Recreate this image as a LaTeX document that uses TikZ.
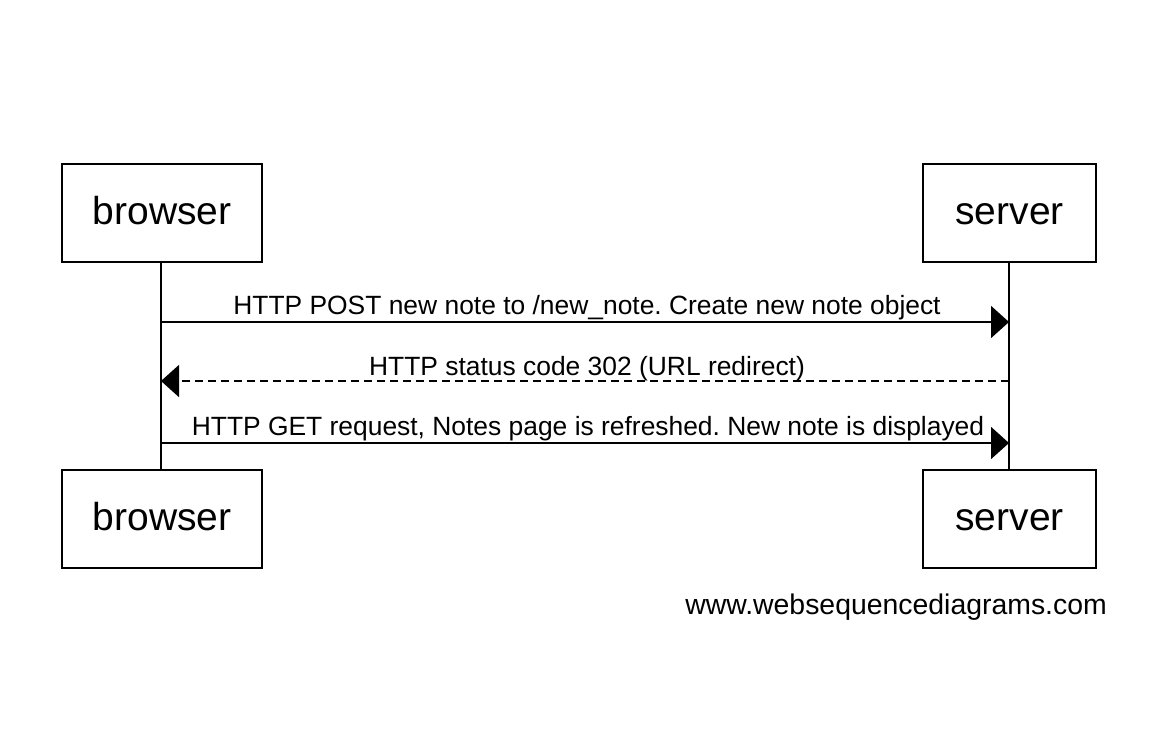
\documentclass[tikz,border=0pt]{standalone}
\usepackage{fontspec}
\setmainfont{Liberation Sans}
\usetikzlibrary{arrows.meta}
\frenchspacing
\begin{document}
\begin{tikzpicture}[x=1pt,y=-1pt,
  actor/.style={draw,line width=1.6pt,minimum height=98pt,inner sep=0pt,
    text height=29pt,text depth=7pt,font=\fontsize{39}{40}\selectfont},
  life/.style={line width=1.6pt},
  msg/.style={line width=1.6pt,-{Triangle[length=18pt,width=32pt]}},
  reply/.style={msg,dash pattern=on 8pt off 5pt},
  lbl/.style={font=\fontsize{26.4}{28}\selectfont,anchor=base,inner sep=0pt}]
\useasboundingbox (0,0) rectangle (1150,734);
% participants, top and bottom
\node[actor,minimum width=200pt] (bt) at (162,213) {browser};
\node[actor,minimum width=173pt] (st) at (1009.5,213) {server};
\node[actor,minimum width=200pt] (bb) at (162,519) {browser};
\node[actor,minimum width=173pt] (sb) at (1009.5,519) {server};
% lifelines
\draw[life] (161,262) coordinate (bl0) -- (161,470) coordinate (bl1);
\draw[life] (1009,262) coordinate (sl0) -- (1009,470) coordinate (sl1);
% message anchors on the lifelines
\coordinate (b1) at (161,322); \coordinate (s1) at (1009,322);
\coordinate (b2) at (161,381); \coordinate (s2) at (1009,381);
\coordinate (b3) at (161,443); \coordinate (s3) at (1009,443);
% messages
\draw[msg] (b1) -- (s1);
\node[lbl] (m1) at (587,314) {HTTP POST new note to /new\_note. Create new note object};
\draw[reply] (s2) -- (b2);
\node[lbl] (m2) at (587,375) {HTTP status code 302 (URL redirect)};
\draw[msg] (b3) -- (s3);
\node[lbl] (m3) at (588,435) {HTTP GET request, Notes page is refreshed. New note is displayed};
% footer
\node[font=\fontsize{28.4}{30}\selectfont,anchor=base east,inner sep=0pt] (web) at (1107,614) {www.websequencediagrams.com};
\end{tikzpicture}
\end{document}
